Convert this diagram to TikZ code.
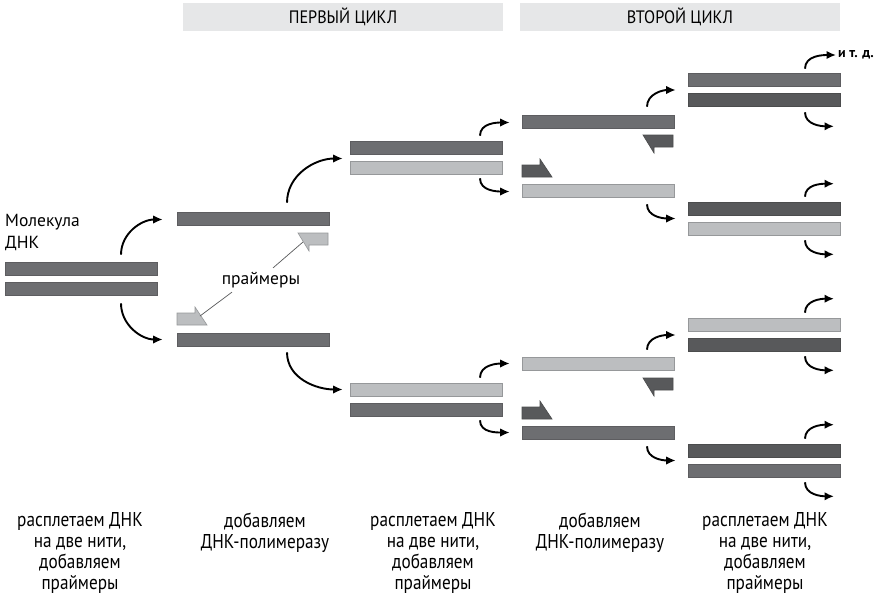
\documentclass[tikz,border=0pt]{standalone}
\usepackage{fontspec}
\setmainfont{PT Sans}
\newfontfamily\narrowfont[FakeStretch=0.86]{PT Sans}
\newfontfamily\headfont[FakeStretch=0.9]{PT Sans}
\usetikzlibrary{arrows.meta}

\definecolor{stmid}{HTML}{6D6E71}
\definecolor{stdark}{HTML}{58595B}
\definecolor{stlight}{HTML}{BCBEC0}
\definecolor{headgray}{HTML}{E6E7E8}

\tikzset{
  strand/.style={rectangle, minimum width=152pt, minimum height=13pt, inner sep=0pt, line width=0.6pt},
  strand mid/.style={strand, fill=stmid, draw=stmid!85!black},
  strand dark/.style={strand, fill=stdark, draw=stdark!85!black},
  strand light/.style={strand, fill=stlight, draw=stlight!80!black},
  primer light/.style={fill=stlight, draw=stlight!80!black, line width=0.6pt},
  primer dark/.style={fill=stdark, draw=stdark!85!black, line width=0.6pt},
  flow/.style={line width=1.9pt, -{Latex[length=9.5pt,width=8.5pt]}},
  pointer/.style={draw=stdark, line width=0.7pt},
  cyclebox/.style={fill=headgray, minimum width=320pt, minimum height=28pt, inner sep=0pt, font=\headfont\fontsize{18}{18}\selectfont},
  caption/.style={align=center, anchor=north, font=\narrowfont\fontsize{20}{21}\selectfont}
}

% primers: #1 = corner coordinate, #2 = style
\newcommand{\revprimer}[2]{\draw[#2] (#1) -- ++(-30,0) -- ++(11,-18) -- ++(0,6) -- ++(19,0) -- cycle;}
\newcommand{\fwdprimer}[2]{\draw[#2] (#1) -- ++(0,12) -- ++(18,0) -- ++(0,6) -- ++(12,-18) -- cycle;}

\begin{document}
\begin{tikzpicture}[x=1pt, y=1pt]
\useasboundingbox (0,0) rectangle (879,-600);

% headers
\node[cyclebox] (c1) at (343,-17) {ПЕРВЫЙ ЦИКЛ};
\node[cyclebox] (c2) at (680,-17) {ВТОРОЙ ЦИКЛ};

% starting molecule
\node[anchor=north west, align=left, inner sep=0pt, font=\fontsize{17.5}{22}\selectfont] (mol) at (5,-214) {Молекула\\ДНК};
\node[strand mid] (s0a) at (81,-268.5) {};
\node[strand mid] (s0b) at (81,-288.5) {};

% first column
\node[strand mid] (s1a) at (253,-218.5) {};
\node[strand mid] (s1b) at (253,-339.5) {};
\revprimer{328,-233}{primer light}
\fwdprimer{177,-325}{primer light}
\coordinate (pr1) at (303,-242);
\coordinate (pr2) at (200,-316);
\node[font=\fontsize{17.5}{17.5}\selectfont, inner sep=0pt] (lbl) at (261,-280) {праймеры};
\draw[pointer] ([xshift=12pt, yshift=4pt]lbl.north) -- (pr1);
\draw[pointer] ([xshift=-29pt, yshift=-4pt]lbl.south) -- (pr2);

% second column
\node[strand mid] (s2a) at (426,-147.5) {};
\node[strand light] (s2b) at (426,-167.5) {};
\node[strand light] (s2c) at (426,-389.5) {};
\node[strand mid] (s2d) at (426,-409.5) {};

% third column
\node[strand mid] (s3a) at (598,-121.5) {};
\revprimer{673,-135}{primer dark}
\fwdprimer{522,-177}{primer dark}
\node[strand light] (s3b) at (598,-190.5) {};
\node[strand light] (s3c) at (598,-363.5) {};
\revprimer{673,-378}{primer dark}
\fwdprimer{522,-419}{primer dark}
\node[strand mid] (s3d) at (598,-432.5) {};

% fourth column
\node[strand mid] (s4a) at (764,-79.5) {};
\node[strand dark] (s4b) at (764,-99.5) {};
\node[strand dark] (s4c) at (764,-208.5) {};
\node[strand light] (s4d) at (764,-228.5) {};
\node[strand light] (s4e) at (764,-324.5) {};
\node[strand dark] (s4f) at (764,-344.5) {};
\node[strand dark] (s4g) at (764,-450.5) {};
\node[strand mid] (s4h) at (764,-470.5) {};

% unwinding arrows
\draw[flow] ([shift={(40,7)}]s0a.north) to[out=90, in=180] ([shift={(-14,-1)}]s1a.west);
\draw[flow] ([shift={(40,-8)}]s0b.south) to[out=-90, in=180] ([shift={(-14,0)}]s1b.west);
\draw[flow] ([shift={(34,9)}]s1a.north) to[out=90, in=180] ([shift={(-7,-11)}]s2a.west);
\draw[flow] ([shift={(34,-6)}]s1b.south) to[out=-90, in=180] ([shift={(-7,0)}]s2c.west);
\draw[flow] ([shift={(54,5)}]s2a.north) to[out=90, in=180] ([shift={(-12,-1)}]s3a.west);
\draw[flow] ([shift={(54,-4)}]s2b.south) to[out=-90, in=180] ([shift={(-12,-1)}]s3b.west);
\draw[flow] ([shift={(54,5)}]s2c.north) to[out=90, in=180] ([shift={(-12,0)}]s3c.west);
\draw[flow] ([shift={(54,-4)}]s2d.south) to[out=-90, in=180] ([shift={(-12,0)}]s3d.west);
\draw[flow] ([shift={(49,8)}]s3a.north) to[out=90, in=180] ([shift={(-12,9.5)}]s4b.west);
\draw[flow] ([shift={(49,-7)}]s3b.south) to[out=-90, in=180] ([shift={(-12,-10)}]s4c.west);
\draw[flow] ([shift={(49,7)}]s3c.north) to[out=90, in=180] ([shift={(-12,9.5)}]s4f.west);
\draw[flow] ([shift={(49,-7)}]s3d.south) to[out=-90, in=180] ([shift={(-12,-10)}]s4g.west);

% outgoing arrows
\coordinate (etc) at (836,-55);
\draw[flow] ([shift={(41,4)}]s4a.north) to[out=90, in=180] (etc);
\node[anchor=west, inner sep=0pt, font=\bfseries\fontsize{14}{14}\selectfont] (etclbl) at ([xshift=2pt]etc) {и т. д.};
\draw[flow] ([shift={(41,-6)}]s4b.south) to[out=-90, in=180] ([shift={(70,-20)}]s4b.south);
\draw[flow] ([shift={(41,5)}]s4c.north) to[out=90, in=180] ([shift={(70,18)}]s4c.north);
\draw[flow] ([shift={(41,-5)}]s4d.south) to[out=-90, in=180] ([shift={(70,-19)}]s4d.south);
\draw[flow] ([shift={(41,5)}]s4e.north) to[out=90, in=180] ([shift={(70,19)}]s4e.north);
\draw[flow] ([shift={(41,-5)}]s4f.south) to[out=-90, in=180] ([shift={(70,-19)}]s4f.south);
\draw[flow] ([shift={(41,5)}]s4g.north) to[out=90, in=180] ([shift={(70,19)}]s4g.north);
\draw[flow] ([shift={(41,-5)}]s4h.south) to[out=-90, in=180] ([shift={(70,-19)}]s4h.south);

% captions
\node[caption] (t1) at (80,-509) {расплетаем ДНК\\на две нити,\\добавляем\\праймеры};
\node[caption] (t2) at (265,-509) {добавляем\\ДНК-полимеразу};
\node[caption] (t3) at (433,-509) {расплетаем ДНК\\на две нити,\\добавляем\\праймеры};
\node[caption] (t4) at (600,-509) {добавляем\\ДНК-полимеразу};
\node[caption] (t5) at (765,-509) {расплетаем ДНК\\на две нити,\\добавляем\\праймеры};

\end{tikzpicture}
\end{document}
